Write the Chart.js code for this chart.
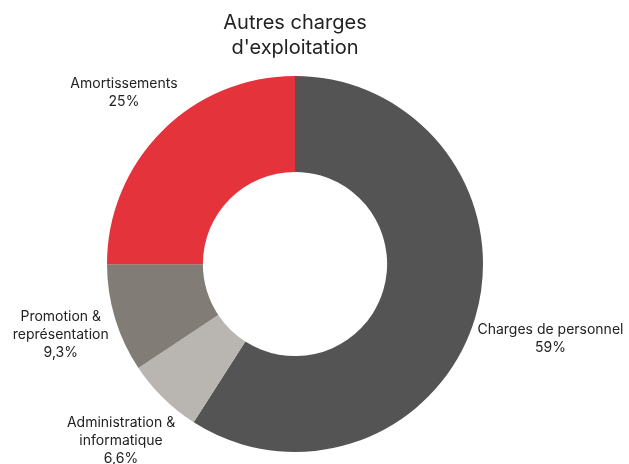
<!DOCTYPE html>
<html>
<head>
<meta charset="utf-8">
<script src="https://cdn.jsdelivr.net/npm/chart.js@4/dist/chart.umd.min.js"></script>
<style>
  html, body { margin: 0; padding: 0; background: #fff; }
  #wrap { width: 629px; height: 464px; }
</style>
</head>
<body>
<div id="wrap"><canvas id="chart"></canvas></div>
<script>
const categories = ['Charges de personnel', 'Administration & informatique', 'Promotion & représentation', 'Amortissements'];
const labelLines = [['Charges de personnel'], ['Administration &', 'informatique'], ['Promotion &', 'représentation'], ['Amortissements']];
const values = [59, 6.6, 9.3, 25];
const colours = ['#545454', '#b9b6b1', '#817c75', '#e5333c'];

const fmt = (v) => v.toLocaleString('fr-FR') + '%';

// labels outside the ring, centred on the slice's mid angle
const outsideLabels = {
    id: 'outsideLabels',
    afterDatasetsDraw(chart) {
        const ctx = chart.ctx;
        const meta = chart.getDatasetMeta(0);
        const lineH = 18;
        ctx.save();
        ctx.font = '14px Inter';
        ctx.fillStyle = '#222';
        ctx.textAlign = 'center';
        ctx.textBaseline = 'middle';
        meta.data.forEach((arc, i) => {
            const lines = labelLines[i].concat([fmt(values[i])]);
            const mid = (arc.startAngle + arc.endAngle) / 2;
            const vx = Math.cos(mid), vy = Math.sin(mid);
            const w = Math.max(...lines.map(l => ctx.measureText(l).width));
            const h = lines.length * lineH;
            const d = arc.outerRadius + 3 + w / 2 * Math.abs(vx) + h / 2 * Math.abs(vy);
            const cx = arc.x + vx * d, cy = arc.y + vy * d;
            lines.forEach((l, j) => {
                ctx.fillText(l, cx, cy + (j - (lines.length - 1) / 2) * lineH);
            });
        });
        ctx.restore();
    }
};

new Chart(document.getElementById('chart'), {
    type: 'doughnut',
    data: {
        labels: categories,
        datasets: [{
            data: values,
            backgroundColor: colours,
            borderWidth: 0,
            hoverOffset: 0
        }]
    },
    options: {
        responsive: true,
        maintainAspectRatio: false,
        animation: false,
        cutout: '49%',
        layout: { padding: { top: 0, bottom: 12, left: 40, right: 79 } },
        plugins: {
            legend: { display: false },
            tooltip: { enabled: false },
            title: {
                display: true,
                text: ['Autres charges', "d'exploitation"],
                color: '#222',
                font: { family: 'Inter', size: 20, weight: 'normal', lineHeight: 1.25 },
                padding: { top: 10, bottom: 16 }
            }
        }
    },
    plugins: [outsideLabels]
});
</script>
</body>
</html>
